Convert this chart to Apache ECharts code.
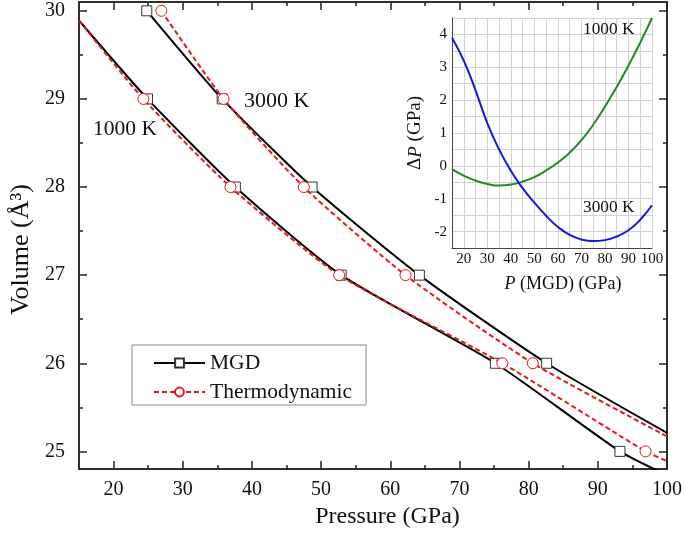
<!DOCTYPE html>
<html>
<head>
<meta charset="utf-8">
<script src="https://cdn.jsdelivr.net/npm/echarts@6/dist/echarts.min.js"></script>
<style>html,body{margin:0;padding:0;background:#fff}#c{width:685px;height:534px}</style>
</head>
<body>
<div id="c"></div>
<script>
// ---- Main chart data: Pressure (GPa) vs Volume (Å^3) ----
const mgd1000Pts = [[24.9,29],[37.6,28],[52.9,27],[75.2,26],[93.2,25]];
const mgd1000Ends = [[15,29.89],[100,24.73]];
const thermo1000Pts = [[24.3,29],[36.9,28],[52.6,27],[76.2,26],[96.9,25]];
const thermo1000Ends = [[15,29.89],[100,24.89]];
const mgd3000Pts = [[24.8,30],[35.7,29],[48.7,28],[64.2,27],[82.6,26]];
const mgd3000Ends = [null,[100,25.21]];
const thermo3000Pts = [[26.9,30],[35.9,29],[47.5,28],[62.2,27],[80.6,26]];
const thermo3000Ends = [null,[100,25.17]];

// tick labels
const xMajor = [20,30,40,50,60,70,80,90,100];
const xMinor = [25,35,45,55,65,75,85,95];
const yMajor = [25,26,27,28,29,30];
const yMinor = [25.5,26.5,27.5,28.5,29.5];

// ---- Inset data: ΔP vs P(MGD) ----
const insetP = [15,20,25,30,35,40,45,50,55,60,65,70,75,80,85,90,95,100];
const dP1000 = [-0.1,-0.3,-0.45,-0.55,-0.6,-0.57,-0.48,-0.34,-0.14,0.1,0.4,0.78,1.25,1.8,2.4,3.05,3.75,4.5];
const dP3000 = [3.9,3.2,2.3,1.3,0.5,-0.15,-0.68,-1.12,-1.52,-1.86,-2.1,-2.24,-2.29,-2.26,-2.15,-1.96,-1.64,-1.2];

const FONT = '"Liberation Serif","Times New Roman",serif';
const AX = '#222';

function buildLine(ends, pts){
  const d = [];
  if (ends[0]) d.push({value: ends[0], symbol: 'none'});
  pts.forEach(p => d.push({value: p}));
  if (ends[1]) d.push({value: ends[1], symbol: 'none'});
  return d;
}

function mainX(pos, vals, len, labels){
  const a = {type:'value', gridIndex:0, position:pos, min:15, max:100,
    axisLine:{show:true, onZero:false, lineStyle:{color:AX, width:1.5}},
    axisTick:{show:true, inside:true, length:len, customValues:vals, lineStyle:{color:AX, width:1.5}},
    axisLabel:{show:false}, splitLine:{show:false}};
  if (labels){
    a.axisLabel = {show:true, customValues:vals, margin:11, fontFamily:FONT, fontSize:20, color:'#111'};
    a.name = 'Pressure (GPa)';
    a.nameLocation = 'middle';
    a.nameGap = 36;
    a.nameTextStyle = {fontFamily:FONT, fontSize:24, color:'#111', padding:[0,0,0,29]};
  }
  return a;
}
function mainY(pos, vals, len, labels){
  const a = {type:'value', gridIndex:0, position:pos, min:24.8, max:30.1,
    axisLine:{show:true, onZero:false, lineStyle:{color:AX, width:1.5}},
    axisTick:{show:true, inside:true, length:len, customValues:vals, lineStyle:{color:AX, width:1.5}},
    axisLabel:{show:false}, splitLine:{show:false}};
  if (labels){
    a.axisLabel = {show:true, customValues:vals, margin:14, fontFamily:FONT, fontSize:20, color:'#111'};
    a.name = 'Volume (Å³)';
    a.nameLocation = 'middle';
    a.nameGap = 45;
    a.nameTextStyle = {fontFamily:FONT, fontSize:26, color:'#111', padding:[0,28,0,0]};
  }
  return a;
}

const isInt = v => Math.abs(v - Math.round(v)) < 1e-9;

const blackLine = {color:'#000', width:2};
const redLine = {color:'#e8161c', width:2, type:[5,3]};
const sqStyle = {color:'#fff', borderColor:'#333', borderWidth:1};
const ciStyle = {color:'#fff', borderColor:'#e8161c', borderWidth:1};

const option = {
  animation:false,
  backgroundColor:'#fff',
  grid:[
    {left:76, top:2, width:591, height:468},
    {left:452, top:18, width:200, height:230}
  ],
  xAxis:[
    mainX('bottom', xMajor, 8, true),
    mainX('bottom', xMinor, 4, false),
    mainX('top', xMajor, 8, false),
    mainX('top', xMinor, 4, false),
    {type:'value', gridIndex:1, position:'bottom', min:15, max:100, interval:5,
      axisLine:{show:true, onZero:false, lineStyle:{color:'#444', width:1}},
      axisTick:{show:false},
      axisLabel:{margin:4, fontFamily:FONT, fontSize:15, color:'#111', formatter:v => (v % 10 === 0 ? String(v) : '')},
      splitLine:{show:true, lineStyle:{color:'#d2d2d2', width:1}},
      name:'{i|P} (MGD) (GPa)', nameLocation:'middle', nameGap:27,
      nameTextStyle:{fontFamily:FONT, fontSize:18, color:'#111', padding:[0,0,0,22],
        rich:{i:{fontFamily:FONT, fontSize:18, fontStyle:'italic', color:'#111'}}}
    }
  ],
  yAxis:[
    mainY('left', yMajor, 8, true),
    mainY('left', yMinor, 4, false),
    mainY('right', yMajor, 8, false),
    mainY('right', yMinor, 4, false),
    {type:'value', gridIndex:1, position:'left', min:-2.5, max:4.5, interval:0.5,
      axisLine:{show:true, onZero:false, lineStyle:{color:'#444', width:1}},
      axisTick:{show:false},
      axisLabel:{margin:5, fontFamily:FONT, fontSize:15, color:'#111', formatter:v => (isInt(v) ? String(Math.round(v)) : '')},
      splitLine:{show:true, lineStyle:{color:'#d2d2d2', width:1}},
      name:'Δ{i|P} (GPa)', nameLocation:'middle', nameGap:27,
      nameTextStyle:{fontFamily:FONT, fontSize:19, color:'#111',
        rich:{i:{fontFamily:FONT, fontSize:19, fontStyle:'italic', color:'#111'}}}
    }
  ],
  legend:{
    left:132, top:345, orient:'vertical', data:['MGD','Thermodynamic'],
    itemWidth:51, itemHeight:11, itemGap:7, padding:[7,14,2,21],
    backgroundColor:'#fff', borderColor:'#888', borderWidth:1,
    textStyle:{fontFamily:FONT, fontSize:21.5, color:'#111', lineHeight:22}
  },
  series:[
    {name:'MGD', type:'line', xAxisIndex:0, yAxisIndex:0, data:buildLine(mgd1000Ends, mgd1000Pts),
      smooth:0.2, symbol:'rect', symbolSize:10, lineStyle:blackLine, itemStyle:sqStyle, clip:true, z:3},
    {name:'MGD', type:'line', xAxisIndex:0, yAxisIndex:0, data:buildLine(mgd3000Ends, mgd3000Pts),
      smooth:0.2, symbol:'rect', symbolSize:10, lineStyle:blackLine, itemStyle:sqStyle, clip:true, z:3},
    {name:'Thermodynamic', type:'line', xAxisIndex:0, yAxisIndex:0, data:buildLine(thermo1000Ends, thermo1000Pts),
      smooth:0.2, symbol:'circle', symbolSize:11, lineStyle:redLine, itemStyle:ciStyle, clip:true, z:4},
    {name:'Thermodynamic', type:'line', xAxisIndex:0, yAxisIndex:0, data:buildLine(thermo3000Ends, thermo3000Pts),
      smooth:0.2, symbol:'circle', symbolSize:11, lineStyle:redLine, itemStyle:ciStyle, clip:true, z:4},
    {name:'1000 K inset', type:'line', xAxisIndex:4, yAxisIndex:4, data:insetP.map((p,i)=>[p,dP1000[i]]),
      smooth:true, symbol:'none', lineStyle:{color:'#1f8a1f', width:2}, clip:true, z:5},
    {name:'3000 K inset', type:'line', xAxisIndex:4, yAxisIndex:4, data:insetP.map((p,i)=>[p,dP3000[i]]),
      smooth:true, symbol:'none', lineStyle:{color:'#1717e0', width:2}, clip:true, z:5}
  ],
  graphic:[
    {type:'text', left:93, top:118, style:{text:'1000 K', fontFamily:FONT, fontSize:21.5, fill:'#111'}},
    {type:'text', left:244, top:90, style:{text:'3000 K', fontFamily:FONT, fontSize:22, fill:'#111'}},
    {type:'text', left:583, top:21, z:10, style:{text:'1000 K', fontFamily:FONT, fontSize:17.3, fill:'#111'}},
    {type:'text', left:583, top:199, z:10, style:{text:'3000 K', fontFamily:FONT, fontSize:17.3, fill:'#111'}}
  ]
};

const chart = echarts.init(document.getElementById('c'), null, {renderer:'canvas'});
chart.setOption(option);
</script>
</body>
</html>
